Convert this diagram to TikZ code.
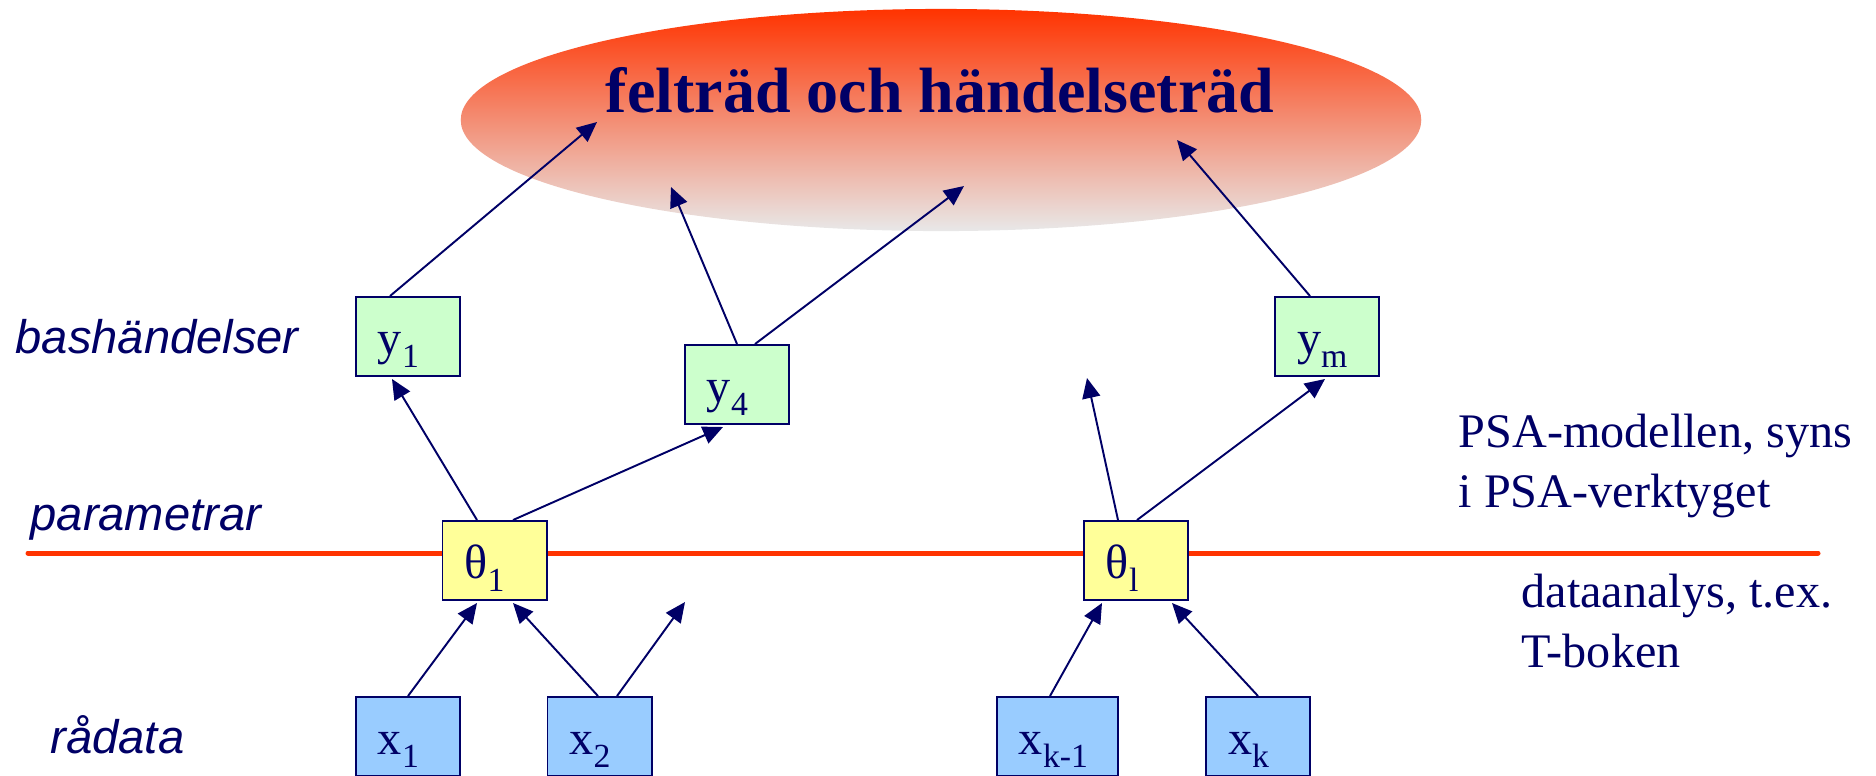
\documentclass[tikz,border=0pt]{standalone}
\usepackage{fontspec}
\setmainfont{Liberation Serif}
\newfontfamily\arialfont{Liberation Sans}
\usetikzlibrary{arrows.meta,shapes.geometric,calc}

\definecolor{navy}{RGB}{0,0,102}
\definecolor{fireline}{RGB}{255,51,0}
\definecolor{ygreen}{RGB}{204,255,204}
\definecolor{tyellow}{RGB}{255,255,153}
\definecolor{xblue}{RGB}{153,204,255}
\definecolor{mist}{RGB}{232,232,232}

\newcommand{\lo}[1]{\raisebox{-0.27em}{\fontsize{9.6pt}{10pt}\selectfont #1}}

\begin{document}
\begin{tikzpicture}[
    x=0.01cm, y=-0.01cm, >={Triangle[length=0.2cm,width=0.18cm]},
    every node/.style={text=navy, font=\fontsize{13.7pt}{16.8pt}\selectfont},
    box/.style={draw=navy, line width=0.55pt, inner xsep=0.22cm, inner ysep=0pt,
      text width=0.6cm, align=left, minimum height=0.79cm,
      text height=0.35cm, text depth=0pt},
    level/.style={font=\arialfont\itshape\fontsize{13.4pt}{16pt}\selectfont,
      anchor=base west, inner sep=0pt},
    note/.style={align=left, anchor=base west, inner sep=0pt},
    link/.style={->, draw=navy, line width=0.55pt}
  ]
    \useasboundingbox (0,0) rectangle (1876,775);

    % the trees
    \node (cloud) [ellipse, minimum width=9.6cm, minimum height=2.22cm, inner sep=0pt,
      top color=fireline, bottom color=mist] at (941,120) {};
    \node (title) [anchor=base, font=\bfseries\fontsize{18.2pt}{22pt}\selectfont]
      at (940,112) {felträd och händelseträd};

    % levels
    \node (bas) [level] at (15,353) {bashändelser};
    \node (par) [level] at (30,530) {parametrar};
    \node (raw) [level] at (50,753) {rådata};

    % base of a two-line note is its last line
    \node (psa) [note] at (1458,507) {PSA-modellen, syns\\i PSA-verktyget};
    \node (ana) [note] at (1521,667) {dataanalys, t.ex.\\T-boken};

    \draw[fireline, line width=1.42pt, line cap=round] (28,553) -- (1818,553);

    % boxes
    \node (y1) [box, fill=ygreen] at (408,336.5) {y\lo{1}};
    \node (y4) [box, fill=ygreen] at (737,384.5) {y\lo{4}};
    \node (ym) [box, fill=ygreen] at (1327,336.5) {y\lo{m}};
    \node (t1) [box, fill=tyellow] at (494.5,560.5) {θ\lo{1}};
    \node (tl) [box, fill=tyellow] at (1136,560.5) {θ\lo{l}};
    \node (x1) [box, fill=xblue] at (408,736.5) {x\lo{1}};
    \node (x2) [box, fill=xblue] at (599.5,736.5) {x\lo{2}};
    \node (xk1) [box, fill=xblue, text width=0.77cm] at (1057.5,736.5) {x\lo{k-1}};
    \node (xk) [box, fill=xblue] at (1258,736.5) {x\lo{k}};

    % free ends
    \coordinate (e1) at (597,122);
    \coordinate (e2) at (671,187);
    \coordinate (e3) at (964,186);
    \coordinate (e4) at (1177,140);
    \coordinate (f1) at (1087,378);
    \coordinate (f2) at (685,602);

    \draw[link] ($(y1.north)+(-18,0)$) -- (e1);
    \draw[link] (y4.north) -- (e2);
    \draw[link] ($(y4.north)+(18,0)$) -- (e3);
    \draw[link] ($(ym.north)+(-17,0)$) -- (e4);
    \draw[link] ($(t1.north)+(-17.5,0)$) -- ($(y1.south)+(-16,2)$);
    \draw[link] ($(t1.north)+(18.5,0)$) -- ($(y4.south)+(-14,2)$);
    \draw[link] ($(tl.north)+(-18,0)$) -- (f1);
    \draw[link] ($(tl.north)+(1,0)$) -- ($(ym.south)+(-2,2)$);
    \draw[link] (x1.north) -- ($(t1.south)+(-17.5,2)$);
    \draw[link] ($(x2.north)+(-1.5,0)$) -- ($(t1.south)+(18.5,2)$);
    \draw[link] ($(x2.north)+(17.5,0)$) -- (f2);
    \draw[link] ($(xk1.north)+(-7.5,0)$) -- ($(tl.south)+(-34,2)$);
    \draw[link] (xk.north) -- ($(tl.south)+(36,2)$);
\end{tikzpicture}
\end{document}
